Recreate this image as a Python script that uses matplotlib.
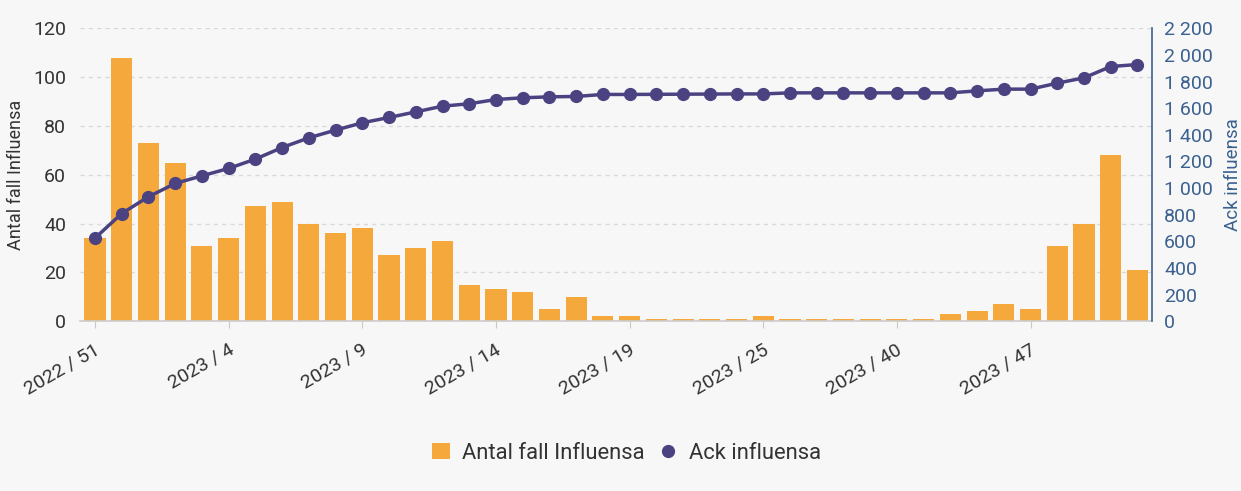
import matplotlib.pyplot as plt
import matplotlib.transforms as mtransforms
import numpy as np

plt.rcParams['font.family'] = ['Roboto', 'DejaVu Sans']

# weeks (year / week)
weeks = ['2022 / 51', '2022 / 52', '2023 / 1', '2023 / 2', '2023 / 3', '2023 / 4',
         '2023 / 5', '2023 / 6', '2023 / 7', '2023 / 8', '2023 / 9',
         '2023 / 10', '2023 / 11', '2023 / 12', '2023 / 13', '2023 / 14',
         '2023 / 15', '2023 / 16', '2023 / 17', '2023 / 18', '2023 / 19',
         '2023 / 20', '2023 / 21', '2023 / 22', '2023 / 23', '2023 / 25',
         '2023 / 26', '2023 / 27', '2023 / 38', '2023 / 39', '2023 / 40',
         '2023 / 41', '2023 / 43', '2023 / 44', '2023 / 46', '2023 / 47',
         '2023 / 48', '2023 / 49', '2023 / 50', '2023 / 51']

# weekly cases
cases = [34, 108, 73, 65, 31, 34, 47, 49, 40, 36, 38,
         27, 30, 33, 15, 13, 12, 5, 10, 2, 2,
         1, 1, 1, 1, 2, 1, 1, 1, 1, 1,
         1, 3, 4, 7, 5, 31, 40, 68, 21]

# cumulative
cumulative = [624, 809, 935, 1035, 1092, 1148, 1218, 1305, 1378, 1436, 1491,
              1531, 1573, 1616, 1634, 1666, 1679, 1686, 1689, 1704, 1704,
              1705, 1706, 1707, 1708, 1708, 1716, 1716, 1716, 1716, 1716,
              1716, 1716, 1731, 1744, 1744, 1789, 1829, 1914, 1929]

bg = '#f7f7f7'
bar_color = '#f5a93c'
line_color = '#4b4281'
axis_blue = '#3b6190'

fig = plt.figure(figsize=(12.41, 4.91), dpi=100, facecolor=bg)
ax = fig.add_axes([0.0645, 0.346, 0.8635, 0.596])
ax.set_facecolor(bg)

x = np.arange(len(weeks))
ax.bar(x, cases, width=0.79, color=bar_color, zorder=2, label='Antal fall Influensa')
ax.set_ylim(0, 120)
ax.set_yticks(range(0, 121, 20))
ax.set_xlim(-0.56, len(weeks) - 0.47)
ax.grid(axis='y', color='#d9d9d9', linestyle=(0, (3, 3)), linewidth=1, zorder=0)
ax.set_xticks(x[::5])
ax.set_xticklabels(weeks[::5], rotation=30, ha='right', rotation_mode='anchor')
ax.tick_params(axis='x', length=5, color='#c8c8c8', labelsize=14, labelcolor='#333333', pad=9)
shift = mtransforms.ScaledTranslation(-1 / 100, 0, fig.dpi_scale_trans)
for lab in ax.get_xticklabels():
    lab.set_transform(lab.get_transform() + shift)
ax.tick_params(axis='y', length=0, labelsize=14, labelcolor='#333333', pad=10)
for s in ['top', 'right', 'left']:
    ax.spines[s].set_visible(False)
ax.spines['bottom'].set_color('#cccccc')
ax.spines['bottom'].set_linewidth(1.2)
ax.set_ylabel('Antal fall Influensa', fontsize=13, color='#333333')
ax.yaxis.set_label_coords(-0.051, 0.5)

ax2 = ax.twinx()
ax2.plot(x, cumulative, color=line_color, linewidth=2.5, marker='o', markersize=8.5,
         label='Ack influensa', zorder=3)
ax2.set_ylim(0, 2200)
ax2.set_yticks(range(0, 2201, 200))
ax2.set_yticklabels([f'{v:,}'.replace(',', ' ') for v in range(0, 2201, 200)])
ax2.tick_params(axis='y', length=0, labelsize=14, labelcolor=axis_blue, pad=9)
for s in ['top', 'left', 'bottom']:
    ax2.spines[s].set_visible(False)
ax2.spines['right'].set_color(axis_blue)
ax2.spines['right'].set_linewidth(1.2)
ax2.set_ylabel('Ack influensa', fontsize=13.5, color=axis_blue, labelpad=8)

h1, l1 = ax.get_legend_handles_labels()
h2, l2 = ax2.get_legend_handles_labels()
leg = fig.legend(h1 + h2, l1 + l2, loc='center', bbox_to_anchor=(0.505, 0.077), ncol=2,
                 frameon=False, fontsize=15.8, handlelength=0.8, handletextpad=0.55,
                 columnspacing=0.7, labelcolor='#333333')
leg.legend_handles[1].set_linestyle('none')

fig.savefig('out.png', dpi=100, facecolor=bg)
